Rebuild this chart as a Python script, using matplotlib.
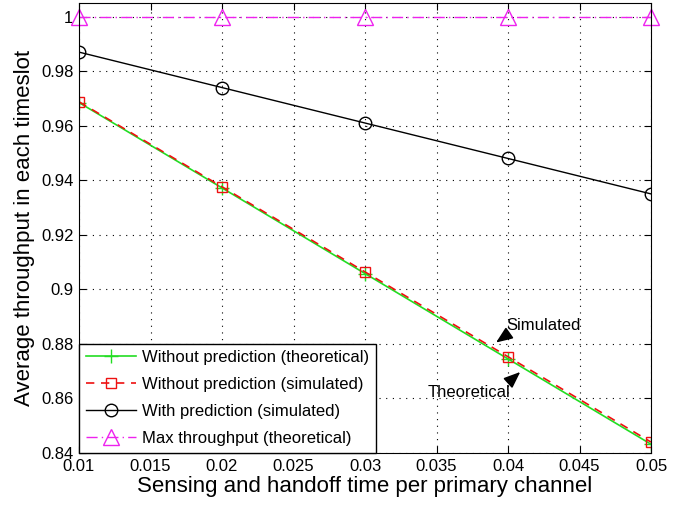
import matplotlib
matplotlib.use("Agg")
import matplotlib.pyplot as plt

plt.rcParams["font.family"] = ["Liberation Sans", "DejaVu Sans"]

x = [0.01, 0.02, 0.03, 0.04, 0.05]
no_pred_theory = [0.9685, 0.9372, 0.9058, 0.8745, 0.8432]
no_pred_sim = [0.9688, 0.9376, 0.9064, 0.8753, 0.8440]
with_pred_sim = [0.987, 0.974, 0.961, 0.948, 0.935]
max_theory = [1.0, 1.0, 1.0, 1.0, 1.0]

xticks = [0.01, 0.015, 0.02, 0.025, 0.03, 0.035, 0.04, 0.045, 0.05]
xtick_labels = ["0.01", "0.015", "0.02", "0.025", "0.03", "0.035", "0.04", "0.045", "0.05"]
yticks = [0.84, 0.86, 0.88, 0.9, 0.92, 0.94, 0.96, 0.98, 1.0]
ytick_labels = ["0.84", "0.86", "0.88", "0.9", "0.92", "0.94", "0.96", "0.98", "1"]

fig = plt.figure(figsize=(6.81, 5.05), dpi=100)
ax = fig.add_axes([0.116, 0.103, 0.840, 0.891])

ax.plot(x, no_pred_theory, color="#22dd22", lw=1.2, marker="+", ms=10,
        label="Without prediction (theoretical)")
ax.plot(x, no_pred_sim, color="#ee1111", lw=1.2, ls=(0, (5, 4)), marker="s", ms=7,
        mfc="none", label="Without prediction (simulated)")
ax.plot(x, with_pred_sim, color="black", lw=1.0, marker="o", ms=9, mfc="none",
        label="With prediction (simulated)")
ax.plot(x, max_theory, color="#ee22ee", lw=1.0, ls=(0, (8, 3, 1, 3)), marker="^", ms=11,
        mfc="none", label="Max throughput (theoretical)", clip_on=False)

ax.set_xlim(0.01, 0.05)
ax.set_ylim(0.84, 1.005)
ax.set_xticks(xticks)
ax.set_xticklabels(xtick_labels)
ax.set_yticks(yticks)
ax.set_yticklabels(ytick_labels)
ax.tick_params(direction="in", top=True, right=True, labelsize=12, length=5, pad=4)
ax.grid(True, color="black", ls=(0, (1, 5)), lw=0.8)

ax.set_xlabel("Sensing and handoff time per primary channel", fontsize=16, labelpad=2)
ax.set_ylabel("Average throughput in each timeslot", fontsize=16, labelpad=4)

arrow = dict(arrowstyle="-|>,head_length=1.0,head_width=0.4", color="black", lw=1.2)
ax.text(0.03986, 0.8851, "Simulated", fontsize=12)
ax.annotate("", xy=(0.0390, 0.8799), xytext=(0.0401, 0.8840), arrowprops=arrow)
ax.text(0.0373, 0.8605, "Theoretical", fontsize=12, ha="center")
ax.annotate("", xy=(0.0410, 0.8704), xytext=(0.0399, 0.8652), arrowprops=arrow)

leg = ax.legend(loc="lower left", fontsize=12, fancybox=False, edgecolor="black",
                framealpha=1, borderaxespad=0, handlelength=3.0, handletextpad=0.4,
                labelspacing=0.72, borderpad=0.4)
leg.get_frame().set_linewidth(1.0)

fig.savefig("out.png", dpi=100)
